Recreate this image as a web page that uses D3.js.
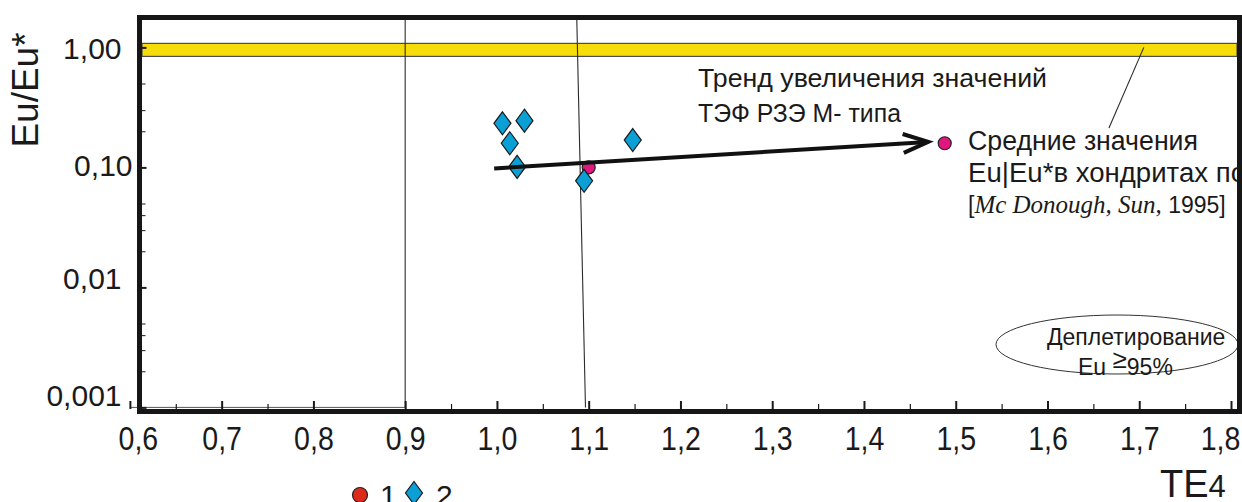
<!DOCTYPE html>
<html>
<head>
<meta charset="utf-8">
<script src="https://cdn.jsdelivr.net/npm/d3@7"></script>
<style>
  html, body { margin: 0; padding: 0; background: #fff; }
  svg { display: block; }
  text { font-family: "Liberation Sans", Arial, sans-serif; fill: #1a1a1a; }
</style>
</head>
<body>
<script>
// ---------------- data ----------------
const xTickValues = [0.6, 0.7, 0.8, 0.9, 1.0, 1.1, 1.2, 1.3, 1.4, 1.5, 1.6, 1.7, 1.8];
const xTickLabels = ["0,6", "0,7", "0,8", "0,9", "1,0", "1,1", "1,2", "1,3", "1,4", "1,5", "1,6", "1,7", "1,8"];
const xMinorTicks = [0.65, 0.75, 0.95, 1.05, 1.15, 1.25, 1.35, 1.45, 1.55, 1.65, 1.75];
const yTickValues = [1, 0.1, 0.01, 0.001];
const yTickLabels = ["1,00", "0,10", "0,01", "0,001"];
const yMinorTicks = [0.5, 0.3, 0.2, 0.05, 0.04, 0.03, 0.02, 0.005, 0.004, 0.003, 0.002];

// series 2 (diamonds)
const diamondTE4 = [1.006, 1.014, 1.022, 1.030, 1.095, 1.148];
const diamondEu  = [0.233, 0.159, 0.101, 0.245, 0.0773, 0.169];
// mean chondrite values (magenta circles)
const circleTE4 = [1.100, 1.488];
const circleEu  = [0.100, 0.159];
// trend arrow
const trendTE4 = [0.997, 1.47];
const trendEu  = [0.098, 0.163];
// reference lines
const refLineVerticalTE4 = [0.9, 0.9];
const refLineVerticalEu  = [1.75, 0.001];
const refLineSlantTE4 = [1.087, 1.0965];
const refLineSlantEu  = [1.75, 0.001];
const leaderTE4 = [1.705, 1.667];
const leaderEu  = [1.0, 0.213];
const chondriteLevel = 1.0;

const legendLabels = ["1", "2"];
const trendText = ["Тренд увеличения значений", "ТЭФ РЗЭ М- типа"];
const meanText = ["Средние значения", "Eu|Eu*в хондритах по"];
const ellipseText = ["Деплетирование"];

// ---------------- layout ----------------
const W = 1242, H = 502;
const svg = d3.select("body").append("svg").attr("width", W).attr("height", H);
svg.append("rect").attr("width", W).attr("height", H).attr("fill", "#fff");

const x = d3.scaleLinear().domain([0.6, 1.8]).range([129.9, 1231]);
const y = d3.scaleLog().domain([0.001, 1]).range([407.4, 47.4]);

const frame = { x0: 139.5, y0: 17.5, x1: 1239.5, y1: 411.5 };
// label placement nudges (layout only)
const xLabelNudge = { 0: 8, 12: -11 };
const yLabelNudge = [[0, 1], [11, -2], [0, -9], [0, -12]];

// yellow chondrite band
svg.append("rect")
  .attr("x", frame.x0 + 2.5).attr("width", frame.x1 - frame.x0 - 5)
  .attr("y", y(chondriteLevel) - 4).attr("height", 13)
  .attr("fill", "#f6dc08").attr("stroke", "#4d4d4d").attr("stroke-width", 1.2);

const line = d3.line().x(d => x(d[0])).y(d => y(d[1]));

// reference lines
svg.append("path").attr("d", line(d3.zip(refLineVerticalTE4, refLineVerticalEu)))
  .attr("stroke", "#2b2b2b").attr("stroke-width", 1.1).attr("fill", "none");
svg.append("path").attr("d", line(d3.zip(refLineSlantTE4, refLineSlantEu)))
  .attr("stroke", "#2b2b2b").attr("stroke-width", 1.1).attr("fill", "none");
svg.append("path").attr("d", line([[0.6, 0.001], [0.9, 0.001]]))
  .attr("stroke", "#555").attr("stroke-width", 1).attr("fill", "none");
svg.append("path").attr("d", line(d3.zip(leaderTE4, leaderEu)))
  .attr("stroke", "#2b2b2b").attr("stroke-width", 1.1).attr("fill", "none");

// ellipse annotation
svg.append("ellipse").attr("cx", 1117).attr("cy", 344.5).attr("rx", 121).attr("ry", 29.5)
  .attr("fill", "none").attr("stroke", "#333").attr("stroke-width", 1);
svg.append("text").attr("x", 1047).attr("y", 345).attr("font-size", 23).text(ellipseText[0]);
const eu = svg.append("text").attr("x", 1078).attr("y", 375).attr("font-size", 23);
eu.append("tspan").text("Eu ");
eu.append("tspan").attr("dy", -7).attr("font-size", 26).text("≥");
eu.append("tspan").attr("dy", 7).text("95%");

// magenta circles
svg.selectAll("circle.mean").data(d3.zip(circleTE4, circleEu)).join("circle")
  .attr("class", "mean")
  .attr("cx", d => x(d[0])).attr("cy", d => y(d[1])).attr("r", 6.5)
  .attr("fill", "#e2167f").attr("stroke", "#222").attr("stroke-width", 1.2);

// diamonds
const diamondPath = "M0,-11.5L8.5,0L0,11.5L-8.5,0Z";
svg.selectAll("path.dia").data(d3.zip(diamondTE4, diamondEu)).join("path")
  .attr("class", "dia")
  .attr("d", diamondPath)
  .attr("transform", d => `translate(${x(d[0])},${y(d[1])})`)
  .attr("fill", "#0aa0d6").attr("stroke", "#1a1a1a").attr("stroke-width", 1.2);

// trend arrow
const p0 = [x(trendTE4[0]), y(trendEu[0])];
const p1 = [x(trendTE4[1]), y(trendEu[1])];
svg.append("path").attr("d", `M${p0[0]},${p0[1]}L${p1[0]},${p1[1]}`)
  .attr("stroke", "#111").attr("stroke-width", 4).attr("fill", "none");
{
  const ang = Math.atan2(p1[1] - p0[1], p1[0] - p0[0]);
  const L = 25, Wd = 9.5;
  const bx = p1[0] - L * Math.cos(ang), by = p1[1] - L * Math.sin(ang);
  const nx = -Math.sin(ang) * Wd, ny = Math.cos(ang) * Wd;
  svg.append("path")
    .attr("d", `M${bx + nx},${by + ny}L${p1[0]},${p1[1]}L${bx - nx},${by - ny}`)
    .attr("stroke", "#111").attr("stroke-width", 4).attr("fill", "none")
    .attr("stroke-linejoin", "miter");
}

// annotation texts
svg.selectAll("text.trend").data(trendText).join("text").attr("class", "trend")
  .attr("x", 698).attr("y", (d, i) => 87 + i * 35).attr("font-size", 26)
  .attr("textLength", (d, i) => i === 0 ? 349 : 203).attr("lengthAdjust", "spacingAndGlyphs")
  .text(d => d);
svg.selectAll("text.mean").data(meanText).join("text").attr("class", "mean")
  .attr("x", 968).attr("y", (d, i) => 150 + i * 32).attr("font-size", 27)
  .attr("textLength", (d, i) => i === 0 ? 230 : 278).attr("lengthAdjust", "spacingAndGlyphs")
  .text(d => d);
const ref = svg.append("text").attr("x", 968).attr("y", 213).attr("font-size", 23);
ref.append("tspan").text("[");
ref.append("tspan").attr("font-family", "Liberation Serif, Times New Roman, serif")
  .attr("font-style", "italic").attr("font-size", 25).text("Mc Donough,  Sun, ");
ref.append("tspan").text("1995]");

// axes
const xs = 0.84;
const xAxis = d3.axisBottom(x).tickValues(xTickValues)
  .tickFormat((d, i) => xTickLabels[i]).tickSizeInner(-8).tickSizeOuter(0).tickPadding(17);
const gx = svg.append("g").attr("transform", `translate(0,${frame.y1 - 2.5})`).call(xAxis);
gx.select(".domain").remove();
gx.selectAll(".tick line").attr("stroke", "#1a1a1a").attr("stroke-width", 2);
gx.selectAll(".tick text")
  .attr("font-size", 34).attr("fill", "#1a1a1a")
  .attr("x", (d, i) => (xLabelNudge[i] || 0) / xs)
  .attr("transform", `scale(${xs},1)`);

const xMinor = d3.axisBottom(x).tickValues(xMinorTicks).tickFormat("").tickSizeInner(-5).tickSizeOuter(0);
const gxm = svg.append("g").attr("transform", `translate(0,${frame.y1 - 2.5})`).call(xMinor);
gxm.select(".domain").remove();
gxm.selectAll(".tick line").attr("stroke", "#1a1a1a").attr("stroke-width", 1.2);

const yAxis = d3.axisLeft(y).tickValues(yTickValues)
  .tickFormat((d, i) => yTickLabels[i]).tickSizeInner(-7).tickSizeOuter(0).tickPadding(18);
const gy = svg.append("g").attr("transform", `translate(${frame.x0},0)`).call(yAxis);
gy.select(".domain").remove();
gy.selectAll(".tick line").attr("stroke", "#1a1a1a").attr("stroke-width", 2);
gy.selectAll(".tick text").attr("font-size", 30).attr("fill", "#1a1a1a")
  .attr("x", (d, i) => -18 + yLabelNudge[i][0])
  .attr("y", (d, i) => yLabelNudge[i][1]);

const yMinor = d3.axisLeft(y).tickValues(yMinorTicks).tickFormat("").tickSizeInner(-6).tickSizeOuter(0);
const gym = svg.append("g").attr("transform", `translate(${frame.x0},0)`).call(yMinor);
gym.select(".domain").remove();
gym.selectAll(".tick line").attr("stroke", "#1a1a1a").attr("stroke-width", 1);

// frame
svg.append("rect").attr("x", frame.x0).attr("y", frame.y0)
  .attr("width", frame.x1 - frame.x0).attr("height", frame.y1 - frame.y0)
  .attr("fill", "none").attr("stroke", "#161616").attr("stroke-width", 5);

// axis titles
svg.append("text").attr("transform", "translate(38,90) rotate(-90)")
  .attr("text-anchor", "middle").attr("font-size", 37).text("Eu/Eu*");
const te = svg.append("text").attr("x", 1160).attr("y", 497).attr("font-size", 38);
te.append("tspan").text("TE");
te.append("tspan").attr("font-size", 31).text("4");

// legend
svg.append("circle").attr("cx", 360).attr("cy", 495).attr("r", 7.5)
  .attr("fill", "#dc2a1b").attr("stroke", "#222").attr("stroke-width", 1.2);
svg.append("text").attr("x", 380).attr("y", 506).attr("font-size", 30).text(legendLabels[0]);
svg.append("path").attr("d", diamondPath).attr("transform", "translate(414,493)")
  .attr("fill", "#0aa0d6").attr("stroke", "#1a1a1a").attr("stroke-width", 1.2);
svg.append("text").attr("x", 436).attr("y", 506).attr("font-size", 30).text(legendLabels[1]);
</script>
</body>
</html>
